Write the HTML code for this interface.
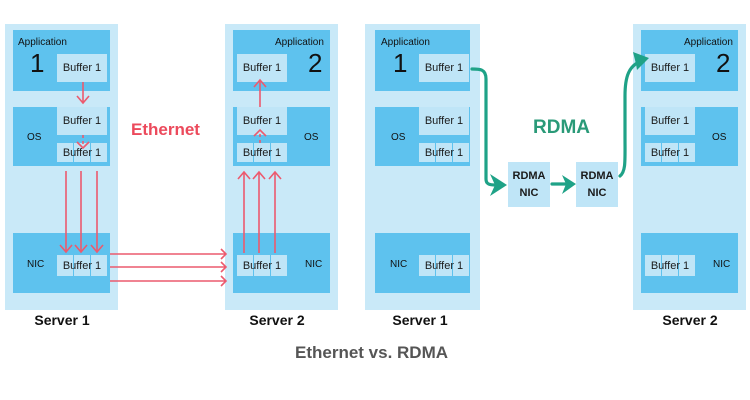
<!DOCTYPE html>
<html><head><meta charset="utf-8"><style>
body{margin:0;width:750px;height:400px;background:#fff;position:relative;overflow:hidden;font-family:"Liberation Sans",sans-serif}
div{position:absolute;box-sizing:border-box}
.o{background:#c9e9f8}
.i{background:#5ec2ee}
.b{background:#bfe5f7;font-size:11px;color:#1a1a1a;display:flex;align-items:center;justify-content:center}
.g{background:linear-gradient(90deg,#bfe5f7 0,#bfe5f7 16px,#5ec2ee 16px,#5ec2ee 17px,#bfe5f7 17px,#bfe5f7 33px,#5ec2ee 33px,#5ec2ee 34px,#bfe5f7 34px)}
.t{font-size:10px;color:#111}
.n{font-size:26px;color:#111}
.s{font-size:14px;font-weight:bold;color:#111;text-align:center;width:120px}
</style></head><body>
<!-- Server 1 eth -->
<div class="o" style="left:5px;top:24px;width:113px;height:286px"></div>
<div class="i" style="left:13px;top:30px;width:97px;height:61px"></div>
<div class="t" style="left:18px;top:37px">Application</div>
<div class="n" style="left:30px;top:48px">1</div>
<div class="b" style="left:57px;top:54px;width:50px;height:28px">Buffer 1</div>
<div class="i" style="left:13px;top:107px;width:97px;height:59px"></div>
<div class="t" style="left:27px;top:132px">OS</div>
<div class="b" style="left:57px;top:107px;width:50px;height:28px">Buffer 1</div>
<div class="b g" style="left:57px;top:143px;width:50px;height:19px">Buffer 1</div>
<div class="i" style="left:13px;top:233px;width:97px;height:60px"></div>
<div class="t" style="left:27px;top:259px">NIC</div>
<div class="b g" style="left:57px;top:255px;width:50px;height:21px">Buffer 1</div>
<div class="s" style="left:2px;top:312px">Server 1</div>
<!-- Server 2 eth -->
<div class="o" style="left:225px;top:24px;width:113px;height:286px"></div>
<div class="i" style="left:233px;top:30px;width:97px;height:61px"></div>
<div class="t" style="left:275px;top:37px">Application</div>
<div class="n" style="left:308px;top:48px">2</div>
<div class="b" style="left:237px;top:54px;width:50px;height:28px">Buffer 1</div>
<div class="i" style="left:233px;top:107px;width:97px;height:59px"></div>
<div class="t" style="left:304px;top:132px">OS</div>
<div class="b" style="left:237px;top:107px;width:50px;height:28px">Buffer 1</div>
<div class="b g" style="left:237px;top:143px;width:50px;height:19px">Buffer 1</div>
<div class="i" style="left:233px;top:233px;width:97px;height:60px"></div>
<div class="t" style="left:305px;top:259px">NIC</div>
<div class="b g" style="left:237px;top:255px;width:50px;height:21px">Buffer 1</div>
<div class="s" style="left:217px;top:312px">Server 2</div>
<!-- Server 1 rdma -->
<div class="o" style="left:365px;top:24px;width:115px;height:286px"></div>
<div class="i" style="left:375px;top:30px;width:95px;height:61px"></div>
<div class="t" style="left:381px;top:37px">Application</div>
<div class="n" style="left:393px;top:48px">1</div>
<div class="b" style="left:419px;top:54px;width:50px;height:28px">Buffer 1</div>
<div class="i" style="left:375px;top:107px;width:95px;height:59px"></div>
<div class="t" style="left:391px;top:132px">OS</div>
<div class="b" style="left:419px;top:107px;width:50px;height:28px">Buffer 1</div>
<div class="b g" style="left:419px;top:143px;width:50px;height:19px">Buffer 1</div>
<div class="i" style="left:375px;top:233px;width:95px;height:60px"></div>
<div class="t" style="left:390px;top:259px">NIC</div>
<div class="b g" style="left:419px;top:255px;width:50px;height:21px">Buffer 1</div>
<div class="s" style="left:360px;top:312px">Server 1</div>
<!-- RDMA NICs -->
<div class="b" style="left:508px;top:162px;width:42px;height:45px;font-weight:bold;font-size:11px;text-align:center;line-height:17px">RDMA<br>NIC</div>
<div class="b" style="left:576px;top:162px;width:42px;height:45px;font-weight:bold;font-size:11px;text-align:center;line-height:17px">RDMA<br>NIC</div>
<!-- Server 2 rdma -->
<div class="o" style="left:633px;top:24px;width:113px;height:286px"></div>
<div class="i" style="left:641px;top:30px;width:97px;height:61px"></div>
<div class="t" style="left:684px;top:37px">Application</div>
<div class="n" style="left:716px;top:48px">2</div>
<div class="b" style="left:645px;top:54px;width:50px;height:28px">Buffer 1</div>
<div class="i" style="left:641px;top:107px;width:97px;height:59px"></div>
<div class="t" style="left:712px;top:132px">OS</div>
<div class="b" style="left:645px;top:107px;width:50px;height:28px">Buffer 1</div>
<div class="b g" style="left:645px;top:143px;width:50px;height:19px">Buffer 1</div>
<div class="i" style="left:641px;top:233px;width:97px;height:60px"></div>
<div class="t" style="left:713px;top:259px">NIC</div>
<div class="b g" style="left:645px;top:255px;width:50px;height:21px">Buffer 1</div>
<div class="s" style="left:630px;top:312px">Server 2</div>
<div style="left:131px;top:120px;font-size:17px;font-weight:bold;color:#ec4a5c">Ethernet</div>
<div style="left:533px;top:117px;font-size:19px;font-weight:bold;color:#2a9a78">RDMA</div>
<div style="left:295px;top:343px;font-size:17px;font-weight:bold;color:#555">Ethernet vs. RDMA</div>
<svg width="750" height="400" style="position:absolute;left:0;top:0" fill="none">
<g stroke="#ec5a6e" stroke-width="1.6">
<path d="M83 82v20M77 96l6 7 6-7"/>
<path d="M83 135v12" stroke-dasharray="3 3"/><path d="M77 142l6 6 6-6"/>
<path d="M66 171v81M81 171v81M97 171v81M60 245l6 7 6-7M75 245l6 7 6-7M91 245l6 7 6-7"/>
<path d="M110 254h115M110 267h115M110 281h115M221 249l5 5-5 5M221 262l5 5-5 5M221 276l5 5-5 5"/>
<path d="M244 253v-81M259 253v-81M275 253v-81M238 179l6-7 6 7M253 179l6-7 6 7M269 179l6-7 6 7"/>
<path d="M260 143v-10" stroke-dasharray="3 3"/><path d="M254 136l6-6 6 6"/>
<path d="M260 107v-26M254 87l6-7 6 7"/>
</g>
<g stroke="#1fa287" stroke-width="3.2" stroke-linecap="round">
<path d="M472 69c8 0 14 0 14 10v100c0 5 3 6 10 6"/>
<path d="M552 184h14"/>
<path d="M620 176c6-5 5-15 5-40v-40c0-20 4-30 16-35"/>
</g>
<g fill="#1fa287">
<path d="M490 174l17 11-17 11 5-11z"/>
<path d="M562 175l14 9-14 10 4-10z"/>
<path d="M633 52l16 6-12 12 -1-6z"/>
</g>
</svg>
</body></html>
